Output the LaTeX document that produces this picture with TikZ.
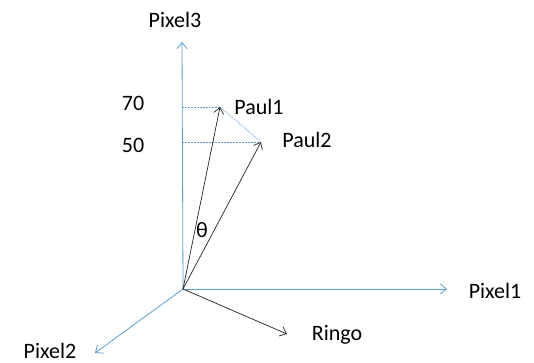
\documentclass[tikz,border=0pt]{standalone}
\usepackage{fontspec}
\setmainfont{Carlito}
\usetikzlibrary{arrows.meta}
\definecolor{axisblue}{RGB}{91,155,213}
\definecolor{vecgray}{RGB}{35,35,35}
\tikzset{
	axis/.style = {draw=axisblue, line width=0.8pt, -{Straight Barb[length=6pt,width=10pt]}},
	vec/.style = {draw=vecgray, line width=0.7pt, -{Straight Barb[length=6pt,width=10pt]}},
	guide/.style = {draw=axisblue, line width=0.5pt, dash pattern=on 2pt off 1pt},
	lbl/.style = {font=\fontsize{22}{26}\selectfont, anchor=base, inner sep=0pt}
}
\begin{document}
\begin{tikzpicture}[x=1pt, y=-1pt]
	\useasboundingbox (0,0) rectangle (534,363);
	% origin and end points
	\coordinate (O) at (183,289);
	\coordinate (x1) at (447,289);
	\coordinate (x2) at (95,353);
	\coordinate (x3) at (182,42);
	\coordinate (paul1) at (220,107);
	\coordinate (paul2) at (261,142);
	\coordinate (ringo) at (287,334);
	\coordinate (h70) at (182,107);
	\coordinate (h50) at (182,142);
	% axes
	\draw[axis] (O) -- (x1);
	\draw[axis] (O) -- (x2);
	\draw[axis] (O) -- (x3);
	% guides
	\draw[guide] (h70) -- (paul1);
	\draw[guide] (h50) -- (paul2);
	\draw[guide] (paul1) -- (paul2);
	% vectors
	\draw[vec] (O) -- (paul1);
	\draw[vec] (O) -- (paul2);
	\draw[vec] (O) -- (ringo);
	% labels
	\node[lbl] (l3) at (175,28) {Pixel3};
	\node[lbl] (l1) at (495,298) {Pixel1};
	\node[lbl] (l2) at (50,358) {Pixel2};
	\node[lbl] (v70) at (133,111) {70};
	\node[lbl] (v50) at (133,153) {50};
	\node[lbl] (lp1) at (259,115) {Paul1};
	\node[lbl] (lp2) at (307,148) {Paul2};
	\node[lbl] (lr) at (337,340) {Ringo};
	\node[lbl] (th) at (202,237) {θ};
\end{tikzpicture}
\end{document}
